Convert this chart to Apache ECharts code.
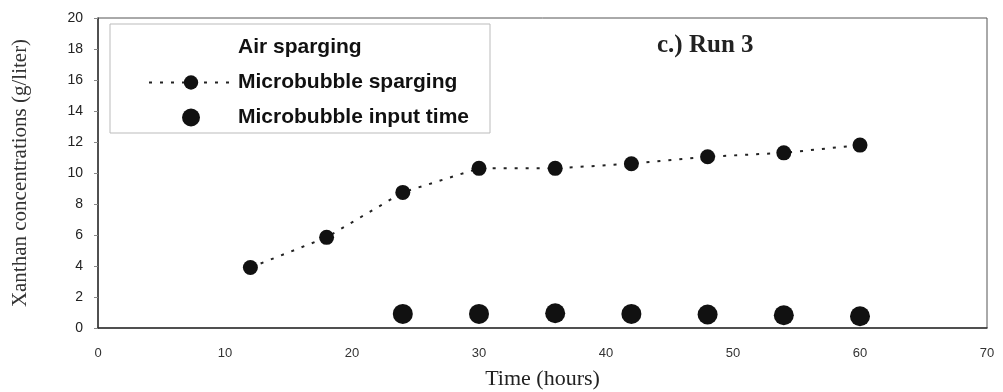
<!DOCTYPE html>
<html>
<head>
<meta charset="utf-8">
<script src="https://cdn.jsdelivr.net/npm/echarts@6/dist/echarts.min.js"></script>
<style>
  html, body { margin: 0; padding: 0; background: #fff; }
  #chart { width: 1003px; height: 392px; }
</style>
</head>
<body>
<div id="chart"></div>
<script>
// data
var sparTime = [12, 18, 24, 30, 36, 42, 48, 54, 60];
var sparConc = [3.9, 5.85, 8.75, 10.3, 10.3, 10.6, 11.05, 11.3, 11.8];
var inputTime = [24, 30, 36, 42, 48, 54, 60];
var inputConc = [0.91, 0.91, 0.95, 0.91, 0.87, 0.82, 0.76];

function pairs(xs, ys) {
  var out = [];
  for (var i = 0; i < xs.length; i++) out.push([xs[i], ys[i]]);
  return out;
}

var myChart = echarts.init(document.getElementById('chart'));
var option = {
  backgroundColor: '#fff',
  animation: false,
  grid: {
    left: 98,
    right: 16,
    top: 18,
    bottom: 64,
    outerBoundsMode: 'none',
    containLabel: false,
    show: true,
    borderColor: '#555',
    borderWidth: 1
  },
  title: {
    text: 'c.) Run 3',
    left: 652,
    top: 28,
    textStyle: {
      fontFamily: 'Liberation Serif',
      fontWeight: 'bold',
      fontSize: 25,
      color: '#222'
    }
  },
  legend: {
    orient: 'vertical',
    left: 143,
    top: 32,
    itemWidth: 84,
    itemHeight: 18,
    itemGap: 14,
    textStyle: {
      fontFamily: 'Liberation Sans',
      fontWeight: 'bold',
      fontSize: 21,
      lineHeight: 18,
      color: '#111'
    },
    data: ['Air sparging', 'Microbubble sparging', 'Microbubble input time']
  },
  graphic: [{
    type: 'rect',
    shape: { x: 110, y: 24, width: 380, height: 109 },
    style: { fill: 'none', stroke: '#bbb', lineWidth: 1 },
    z: 1
  }],
  xAxis: {
    type: 'value',
    min: 0,
    max: 70,
    interval: 10,
    name: 'Time (hours)',
    nameLocation: 'middle',
    nameGap: 40,
    nameTextStyle: { fontFamily: 'Liberation Serif', fontSize: 22, color: '#222' },
    axisLine: { show: true, lineStyle: { color: '#333', width: 1.5 } },
    axisTick: { show: false },
    splitLine: { show: false },
    axisLabel: { fontFamily: 'Liberation Sans', fontSize: 13, color: '#333', margin: 19 }
  },
  yAxis: {
    type: 'value',
    min: 0,
    max: 20,
    interval: 2,
    name: 'Xanthan concentrations (g/liter)',
    nameLocation: 'middle',
    nameGap: 67,
    nameTextStyle: { fontFamily: 'Liberation Serif', fontSize: 21, color: '#333' },
    axisLine: { show: true, lineStyle: { color: '#333', width: 1.5 } },
    axisTick: { show: true, inside: false, length: 4, lineStyle: { color: '#888' } },
    splitLine: { show: false },
    axisLabel: { fontFamily: 'Liberation Sans', fontSize: 14, color: '#222', margin: 15 }
  },
  series: [
    {
      name: 'Air sparging',
      type: 'line',
      symbol: 'none',
      lineStyle: { opacity: 0, width: 0 },
      itemStyle: { opacity: 0 },
      data: []
    },
    {
      name: 'Microbubble sparging',
      type: 'line',
      symbol: 'circle',
      symbolSize: 15,
      itemStyle: { color: '#111' },
      lineStyle: { color: '#222', width: 2, type: [3, 8] },
      data: pairs(sparTime, sparConc),
      z: 3
    },
    {
      name: 'Microbubble input time',
      type: 'scatter',
      symbol: 'circle',
      symbolSize: 20,
      itemStyle: { color: '#111', opacity: 1 },
      data: pairs(inputTime, inputConc),
      z: 3
    }
  ]
};
option && myChart.setOption(option);
</script>
</body>
</html>
